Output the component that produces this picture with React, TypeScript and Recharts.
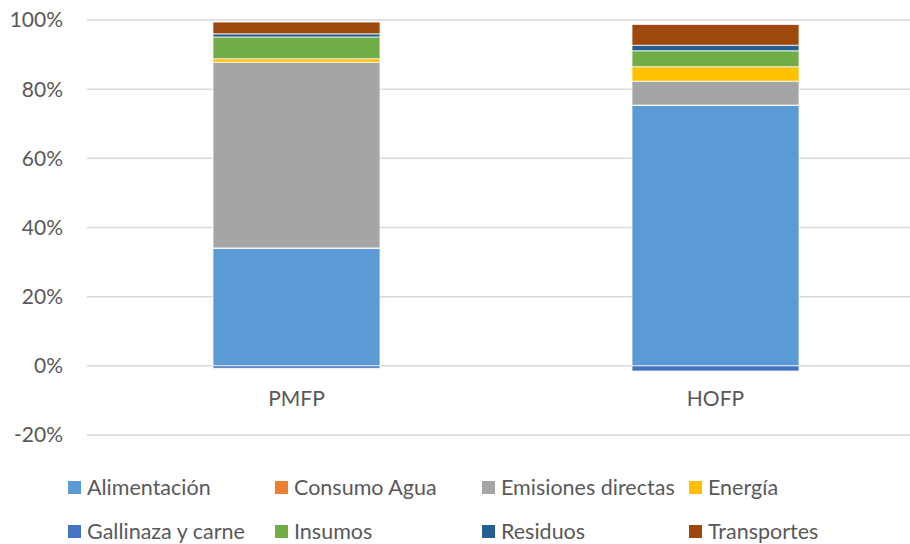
import { Bar, BarChart, CartesianGrid, XAxis, YAxis } from 'recharts'

const categories = ['PMFP', 'HOFP']

const alimentacion = [34.0, 75.3]
const consumoAgua = [0.1, 0.1]
const emisionesDirectas = [53.7, 6.9]
const energia = [1.0, 4.2]
const gallinaza = [-0.7, -1.5]
const insumos = [6.3, 4.6]
const residuos = [0.9, 1.6]
const transportes = [3.4, 6.0]

const yTicks = [-20, 0, 20, 40, 60, 80, 100]

const seriesList = [
  { key: 'Alimentación', values: alimentacion, color: '#5B9BD5' },
  { key: 'Consumo Agua', values: consumoAgua, color: '#ED7D31' },
  { key: 'Emisiones directas', values: emisionesDirectas, color: '#A5A5A5' },
  { key: 'Energía', values: energia, color: '#FFC000' },
  { key: 'Gallinaza y carne', values: gallinaza, color: '#4472C4' },
  { key: 'Insumos', values: insumos, color: '#70AD47' },
  { key: 'Residuos', values: residuos, color: '#255E91' },
  { key: 'Transportes', values: transportes, color: '#9E480E' },
]

const data = categories.map((name, i) => {
  const row: Record<string, string | number> = { name }
  seriesList.forEach((s) => {
    row[s.key] = s.values[i]
  })
  return row
})

const font = 'Lato, "Open Sans", sans-serif'
const textColor = '#595959'

function CategoryTick(props: any) {
  const { x, y, payload } = props
  return (
    <text
      x={x}
      y={y}
      dy={-37}
      textAnchor="middle"
      fill={textColor}
      fontSize={21}
      fontFamily={font}
    >
      {payload.value}
    </text>
  )
}

function ChartLegend() {
  return (
    <div style={{ position: 'absolute', left: 0, top: 0, fontFamily: font }}>
      {seriesList.map((s, i) => {
        const col = i % 4
        const row = Math.floor(i / 4)
        return (
          <div
            key={s.key}
            style={{
              position: 'absolute',
              left: 68 + col * 207,
              top: 475 + row * 44,
              display: 'flex',
              alignItems: 'center',
              whiteSpace: 'nowrap',
              height: 24,
            }}
          >
            <span
              style={{
                display: 'inline-block',
                width: 13,
                height: 13,
                background: s.color,
                marginRight: 6,
              }}
            />
            <span style={{ fontSize: 21.5, color: textColor }}>{s.key}</span>
          </div>
        )
      })}
    </div>
  )
}

export default function App() {
  return (
    <div
      style={{
        position: 'fixed',
        left: 0,
        top: 0,
        width: 910,
        height: 544,
        overflow: 'hidden',
        background: '#fff',
      }}
    >
      <BarChart
        width={925}
        height={544}
        data={data}
        stackOffset="sign"
        margin={{ top: 20, right: 0, left: 0, bottom: 79 }}
      >
        <CartesianGrid
          vertical={false}
          stroke="#d9d9d9"
          strokeWidth={1.5}
        />
        <XAxis
          dataKey="name"
          axisLine={false}
          tickLine={false}
          height={30}
          tick={<CategoryTick />}
        />
        <YAxis
          width={87}
          domain={[-20, 100]}
          ticks={yTicks}
          axisLine={false}
          tickLine={false}
          tickSize={0}
          tickMargin={24}
          tickFormatter={(v: number) => `${v}%`}
          tick={{ fill: textColor, fontSize: 21, fontFamily: font }}
        />
        {seriesList.map((s) => (
          <Bar
            key={s.key}
            dataKey={s.key}
            stackId="a"
            fill={s.color}
            stroke="#ffffff"
            strokeWidth={0.75}
            barSize={167}
            isAnimationActive={false}
          />
        ))}
      </BarChart>
      <ChartLegend />
    </div>
  )
}
